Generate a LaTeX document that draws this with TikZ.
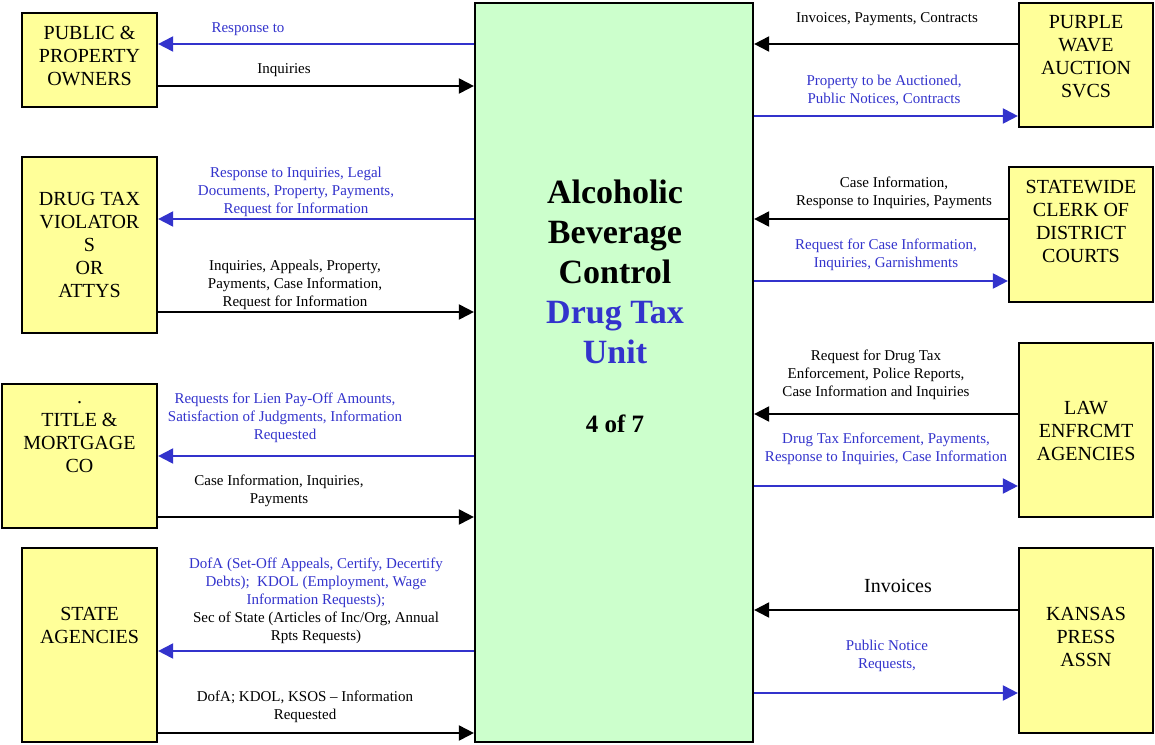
\documentclass[tikz,border=0pt]{standalone}
\usepackage{fontspec}
\setmainfont{Liberation Serif}
\usetikzlibrary{arrows.meta}
\definecolor{flowblue}{RGB}{51,51,204}
\definecolor{extfill}{RGB}{255,255,153}
\definecolor{unitfill}{RGB}{204,255,204}
\begin{document}
\begin{tikzpicture}[x=1pt,y=-1pt,
  extbox/.style={draw=black, line width=2.2pt, fill=extfill, inner sep=0pt},
  boxtext/.style={font=\fontsize{20}{23}\selectfont, align=center, inner sep=0pt},
  lbl/.style={font=\fontsize{15}{18}\selectfont, align=center, inner sep=0pt},
  bluelbl/.style={lbl, text=flowblue},
  flow/.style={line width=2pt, -{Triangle[length=15pt,width=15pt]}},
  toinside/.style={flow, draw=black},
  tooutside/.style={flow, draw=flowblue}]
\useasboundingbox (0,0) rectangle (1155,744);

% central unit
\node[draw=black, line width=2.2pt, fill=unitfill, minimum width=278pt, minimum height=739pt] (unit) at (614,372.5) {};
\node[font=\fontsize{34}{40}\bfseries\selectfont, align=center, inner sep=0pt] (unittitle) at (615,271.5)
  {Alcoholic\\Beverage\\Control\\\textcolor{flowblue}{Drug Tax}\\\textcolor{flowblue}{Unit}};
\node[font=\fontsize{25}{30}\bfseries\selectfont, inner sep=0pt] (unitpage) at (615,424) {4 of 7};

% external parties, left
\node[extbox, minimum width=135pt, minimum height=94pt,
  label={[boxtext,yshift=4pt]center:PUBLIC \&\\PROPERTY\\OWNERS}] (pub) at (89.5,60) {};
\node[extbox, minimum width=135pt, minimum height=176pt,
  label={[boxtext]center:DRUG TAX\\VIOLATOR\\S\\OR\\ATTYS}] (viol) at (89.5,245) {};
\node[extbox, minimum width=155pt, minimum height=144pt,
  label={[boxtext,yshift=19pt]center:.\\TITLE \&\\MORTGAGE\\CO}] (title) at (79.5,456) {};
\node[extbox, minimum width=135pt, minimum height=194pt,
  label={[boxtext,yshift=20pt]center:STATE\\AGENCIES}] (state) at (89.5,645) {};

% external parties, right
\node[extbox, minimum width=134pt, minimum height=124pt,
  label={[boxtext,yshift=8pt]center:PURPLE\\WAVE\\AUCTION\\SVCS}] (purple) at (1086,65) {};
\node[extbox, minimum width=144pt, minimum height=135pt,
  label={[boxtext,yshift=13pt]center:STATEWIDE\\CLERK OF\\DISTRICT\\COURTS}] (clerk) at (1081,234.5) {};
\node[extbox, minimum width=134pt, minimum height=174pt,
  label={[boxtext,yshift=-1pt]center:LAW\\ENFRCMT\\AGENCIES}] (law) at (1086,430) {};
\node[extbox, minimum width=134pt, minimum height=185pt,
  label={[boxtext,yshift=4pt]center:KANSAS\\PRESS\\ASSN}] (kansas) at (1086,640.5) {};

% flows, left side
\draw[tooutside] (unit.west |- 0,44) -- (pub.east |- 0,44);
\draw[toinside] (pub.east |- 0,86) -- (unit.west |- 0,86);
\node[bluelbl] (l1) at (248,29) {Response to};
\node[lbl] (l2) at (284,70) {Inquiries};

\draw[tooutside] (unit.west |- 0,219) -- (viol.east |- 0,219);
\draw[toinside] (viol.east |- 0,312) -- (unit.west |- 0,312);
\node[bluelbl] (l3) at (296,191.5) {Response to Inquiries, Legal\\Documents, Property, Payments,\\Request for Information};
\node[lbl] (l4) at (295,284.5) {Inquiries, Appeals, Property,\\Payments, Case Information,\\Request for Information};

\draw[tooutside] (unit.west |- 0,456) -- (title.east |- 0,456);
\draw[toinside] (title.east |- 0,517) -- (unit.west |- 0,517);
\node[bluelbl] (l5) at (285,417.5) {Requests for Lien Pay-Off Amounts,\\Satisfaction of Judgments, Information\\Requested};
\node[lbl] (l6) at (279,491) {Case Information, Inquiries,\\Payments};

\draw[tooutside] (unit.west |- 0,651) -- (state.east |- 0,651);
\draw[toinside] (state.east |- 0,733) -- (unit.west |- 0,733);
\node[lbl] (l7) at (316,601) {\textcolor{flowblue}{DofA (Set-Off Appeals, Certify, Decertify}\\
  \textcolor{flowblue}{Debts);\ \ KDOL (Employment, Wage}\\
  \textcolor{flowblue}{Information Requests);}\\
  Sec of State (Articles of Inc/Org, Annual\\Rpts Requests)};
\node[lbl] (l8) at (305,706.5) {DofA; KDOL, KSOS – Information\\Requested};

% flows, right side
\draw[toinside] (purple.west |- 0,44) -- (unit.east |- 0,44);
\draw[tooutside] (unit.east |- 0,116) -- (purple.west |- 0,116);
\node[lbl] (r1) at (887,19) {Invoices, Payments, Contracts};
\node[bluelbl] (r2) at (884,90.5) {Property to be Auctioned,\\ Public Notices, Contracts};

\draw[toinside] (clerk.west |- 0,219) -- (unit.east |- 0,219);
\draw[tooutside] (unit.east |- 0,281) -- (clerk.west |- 0,281);
\node[lbl] (r3) at (894,192.5) {Case Information,\\Response to Inquiries, Payments};
\node[bluelbl] (r4) at (886,254.5) {Request for Case Information,\\Inquiries, Garnishments};

\draw[toinside] (law.west |- 0,414) -- (unit.east |- 0,414);
\draw[tooutside] (unit.east |- 0,486) -- (law.west |- 0,486);
\node[lbl] (r5) at (876,374.5) {Request for Drug Tax\\Enforcement, Police Reports,\\Case Information and Inquiries};
\node[bluelbl] (r6) at (886,449) {Drug Tax Enforcement, Payments,\\Response to Inquiries, Case Information};

\draw[toinside] (kansas.west |- 0,610) -- (unit.east |- 0,610);
\draw[tooutside] (unit.east |- 0,693) -- (kansas.west |- 0,693);
\node[lbl, font=\fontsize{20}{23}\selectfont] (r7) at (898,586) {Invoices};
\node[bluelbl] (r8) at (887,655.5) {Public Notice\\Requests,};
\end{tikzpicture}
\end{document}
